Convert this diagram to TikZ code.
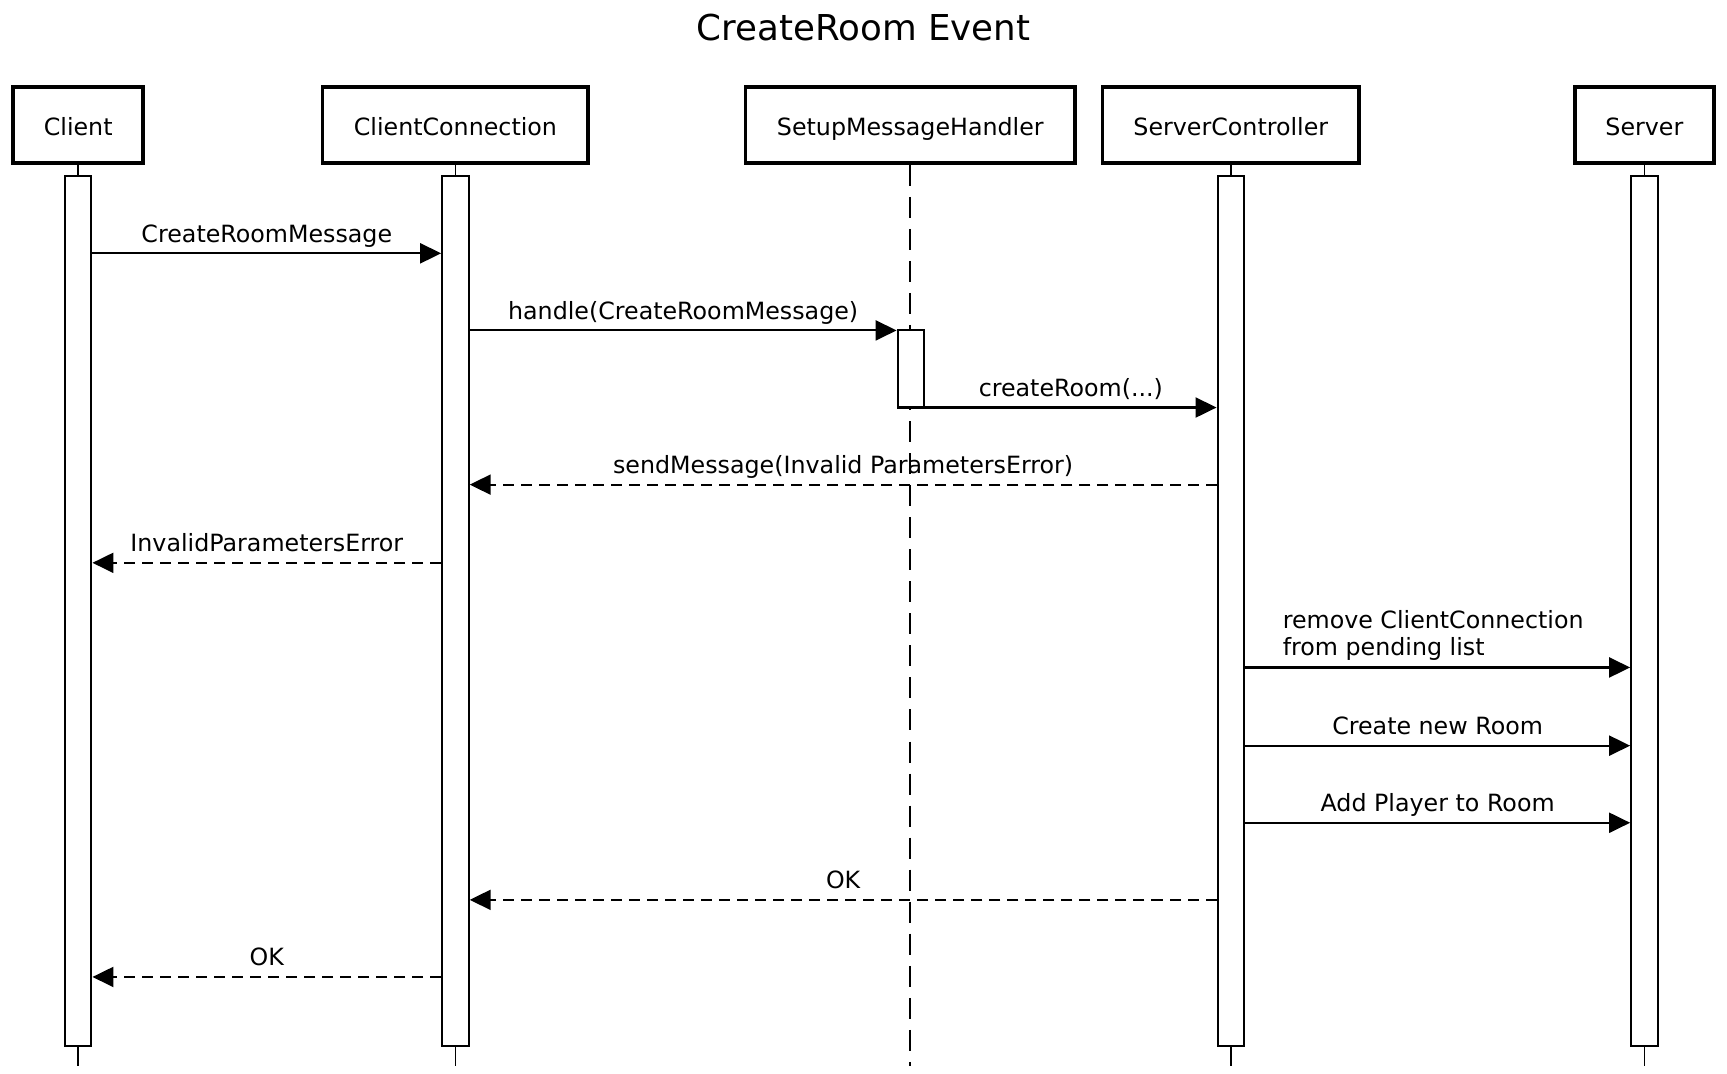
\documentclass[tikz,border=0pt]{standalone}
\usepackage{fontspec}
\setmainfont{DejaVu Sans}
\usetikzlibrary{arrows.meta}
\begin{document}
\begin{tikzpicture}[x=0.55pt,y=-0.55pt,
  every node/.style={font=\fontsize{11.86}{13.75}\selectfont},
  actor/.style={draw,line width=1.75pt,minimum height=69*0.55pt,inner sep=0pt,text height=0.76em,text depth=0pt},
  actortext/.style={inner sep=0pt,text height=0.76em,text depth=0pt,yshift=-1.2pt},
  bar/.style={draw,fill=white,line width=1.05pt,minimum width=24*0.55pt,inner sep=0pt},
  life/.style={line width=0.75pt},
  dlife/.style={line width=1pt,dash pattern=on 10.5pt off 5.5pt},
  msg/.style={line width=1.05pt,-{Triangle[length=10.5pt,width=10pt]}},
  ret/.style={msg,dash pattern=on 5.5pt off 3.5pt},
  lbl/.style={anchor=base,inner sep=0pt,yshift=10*0.55pt}]
\useasboundingbox (0,0) rectangle (1568,975);
\node[font=\fontsize{17.8}{20}\selectfont,anchor=base] (title) at (784,37) {CreateRoom Event};
% actor boxes
\node[actor,minimum width=118*0.55pt] (cCl) at (71,113.5) {};
\node[actor,minimum width=241*0.55pt] (cCC) at (413.5,113.5) {};
\node[actor,minimum width=299*0.55pt] (cSH) at (826.5,113.5) {};
\node[actor,minimum width=233*0.55pt] (cSC) at (1117.5,113.5) {};
\node[actor,minimum width=126*0.55pt] (cSv) at (1493,113.5) {};
\node[actortext] (tCl) at (cCl) {Client};
\node[actortext] (tCC) at (cCC) {ClientConnection};
\node[actortext] (tSH) at (cSH) {SetupMessageHandler};
\node[actortext] (tSC) at (cSC) {ServerController};
\node[actortext] (tSv) at (cSv) {Server};
% lifeline ends
\coordinate (eCl) at (71,968);
\coordinate (eCC) at (413.5,968);
\coordinate (eSH) at (826.5,968);
\coordinate (eSC) at (1117.5,968);
\coordinate (eSv) at (1493,968);
\draw[dlife] (cSH.south) -- (eSH);
% activation bars
\node[bar,minimum height=790*0.55pt] (aCl) at (71,555) {};
\node[bar,minimum height=790*0.55pt] (aCC) at (413.5,555) {};
\node[bar,minimum height=790*0.55pt] (aSC) at (1117.5,555) {};
\node[bar,minimum height=790*0.55pt] (aSv) at (1493,555) {};
\node[bar,minimum height=70*0.55pt] (aSH) at (827,335) {};
\foreach \a/\b/\e in {cCl/aCl/eCl,cCC/aCC/eCC,cSC/aSC/eSC,cSv/aSv/eSv}{
  \draw[life] (\a.south) -- (\b.north);
  \draw[life] (\b.south) -- (\e);
}
% message rows
\coordinate (r1) at (0,230);
\coordinate (r2) at (0,300);
\coordinate (r3) at (0,370);
\coordinate (r4) at (0,440);
\coordinate (r5) at (0,511);
\coordinate (r6) at (0,606);
\coordinate (r7) at (0,677);
\coordinate (r8) at (0,747);
\coordinate (r9) at (0,817);
\coordinate (r10) at (0,887);
\draw[msg] (aCl.east |- r1) -- node[lbl] {CreateRoomMessage} (aCC.west |- r1);
\draw[msg] (aCC.east |- r2) -- node[lbl] {handle(CreateRoomMessage)} (aSH.west |- r2);
\draw[msg] (aSH.east |- r3) -- node[lbl] {createRoom(...)} (aSC.west |- r3);
\draw[ret] (aSC.west |- r4) -- node[lbl] {sendMessage(Invalid ParametersError)} (aCC.east |- r4);
\draw[ret] (aCC.west |- r5) -- node[lbl] {InvalidParametersError} (aCl.east |- r5);
\draw[msg] (aSC.east |- r6) -- node[anchor=south,inner sep=0pt,align=left,yshift=5*0.55pt,xshift=-2.2pt] {remove ClientConnection\\from pending list} (aSv.west |- r6);
\draw[msg] (aSC.east |- r7) -- node[lbl] {Create new Room} (aSv.west |- r7);
\draw[msg] (aSC.east |- r8) -- node[lbl] {Add Player to Room} (aSv.west |- r8);
\draw[ret] (aSC.west |- r9) -- node[lbl] {OK} (aCC.east |- r9);
\draw[ret] (aCC.west |- r10) -- node[lbl] {OK} (aCl.east |- r10);
\end{tikzpicture}
\end{document}
